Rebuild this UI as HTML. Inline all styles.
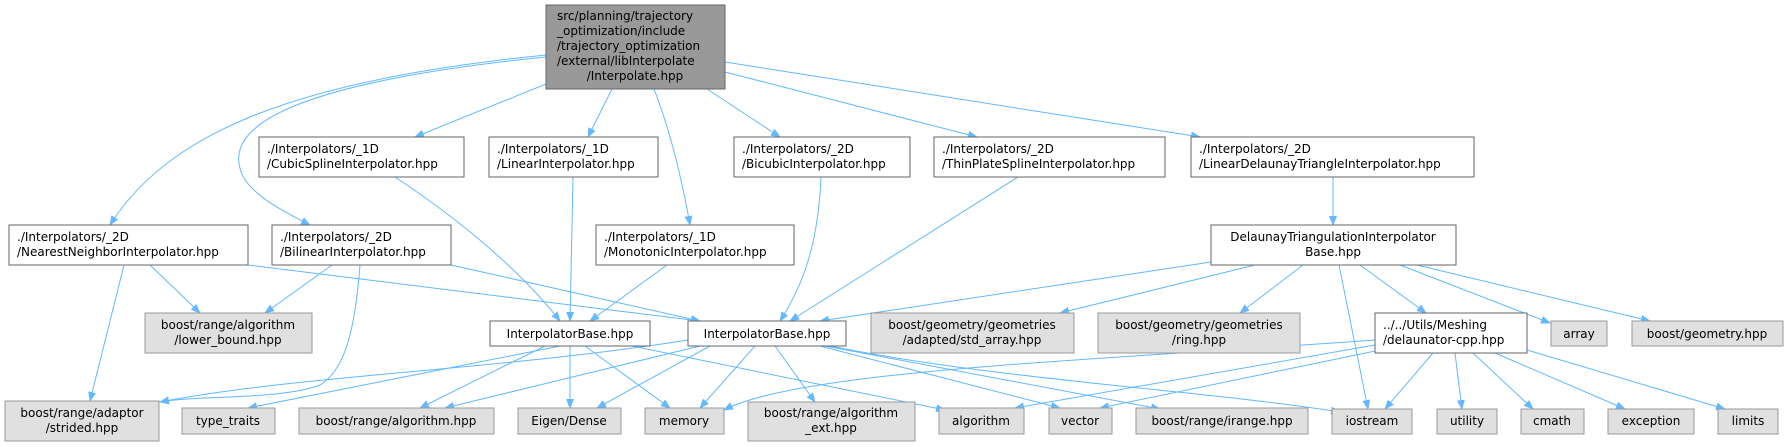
<!DOCTYPE html>
<html><head><meta charset="utf-8"><style>
html,body{margin:0;padding:0;background:#fff}
svg{display:block}
text{font-family:"DejaVu Sans","Liberation Sans",sans-serif;font-size:12px;fill:#000}
.w{fill:#fff;stroke:#666;stroke-width:1}
.g{fill:#e0e0e0;stroke:#999;stroke-width:1}
.r{fill:#999;stroke:#666;stroke-width:1}
.e{fill:none;stroke:#63b8ff;stroke-width:1}
</style></head><body>
<svg width="1788" height="447" viewBox="0 0 1788 447" xmlns="http://www.w3.org/2000/svg">
<defs><marker id="a" markerWidth="10" markerHeight="8" refX="9" refY="4" orient="auto" markerUnits="userSpaceOnUse"><path d="M0,0 L10,4 L0,8 z" fill="#63b8ff"/></marker></defs>
<g marker-end="url(#a)">
<path class="e" d="M546,55 C300,80 170,130 110,225"/>
<path class="e" d="M546,57 C320,80 210,120 245,180 C260,200 285,212 310,225"/>
<path class="e" d="M546,84 L415,137"/>
<path class="e" d="M612,89 L588,137"/>
<path class="e" d="M654,89 C670,130 682,180 690,225"/>
<path class="e" d="M707,89 L780,137"/>
<path class="e" d="M725,72 L977,137"/>
<path class="e" d="M725,62 L1200,137"/>
<path class="e" d="M395,177 C460,220 520,270 560,321"/>
<path class="e" d="M573,177 L570,321"/>
<path class="e" d="M667,265 L590,321"/>
<path class="e" d="M124,265 L90,401"/>
<path class="e" d="M150,265 L200,313"/>
<path class="e" d="M248,265 L700,321"/>
<path class="e" d="M332,265 L265,313"/>
<path class="e" d="M360,265 C355,330 345,370 320,385 C280,400 200,395 160,402"/>
<path class="e" d="M451,265 L700,321"/>
<path class="e" d="M821,177 C818,250 800,290 780,321"/>
<path class="e" d="M1018,177 L790,321"/>
<path class="e" d="M1333,177 L1333,225"/>
<path class="e" d="M1211,262 L820,321"/>
<path class="e" d="M1255,265 L1060,313"/>
<path class="e" d="M1303,265 L1240,313"/>
<path class="e" d="M1339,265 L1368,409"/>
<path class="e" d="M1360,265 L1426,313"/>
<path class="e" d="M1400,265 L1550,323"/>
<path class="e" d="M1417,265 L1650,321"/>
<path class="e" d="M560,346 L248,408"/>
<path class="e" d="M545,346 L420,408"/>
<path class="e" d="M570,346 L570,408"/>
<path class="e" d="M585,346 L670,408"/>
<path class="e" d="M632,346 L945,410"/>
<path class="e" d="M688,340 C500,370 300,375 160,402"/>
<path class="e" d="M700,346 L445,408"/>
<path class="e" d="M710,346 L597,408"/>
<path class="e" d="M755,346 L700,408"/>
<path class="e" d="M775,346 L815,402"/>
<path class="e" d="M820,346 L1060,408"/>
<path class="e" d="M825,346 L1160,409"/>
<path class="e" d="M830,346 C1000,380 1200,390 1340,412"/>
<path class="e" d="M1375,340 C1100,360 800,370 724,410"/>
<path class="e" d="M1375,345 L1015,408"/>
<path class="e" d="M1380,350 L1100,408"/>
<path class="e" d="M1433,353 L1385,409"/>
<path class="e" d="M1455,353 L1462,409"/>
<path class="e" d="M1473,353 L1533,409"/>
<path class="e" d="M1495,353 L1625,409"/>
<path class="e" d="M1527,350 L1725,409"/>
</g>
<rect class="r" x="546" y="5" width="179" height="84"/>
<text x="557" y="20">src/planning/trajectory</text><text x="557" y="35">_optimization/include</text><text x="557" y="50">/trajectory_optimization</text><text x="557" y="65">/external/libInterpolate</text><text x="635" y="80" text-anchor="middle">/Interpolate.hpp</text>
<rect class="w" x="259" y="137" width="205" height="40"/><text x="267" y="153">./Interpolators/_1D</text><text x="267" y="168">/CubicSplineInterpolator.hpp</text>
<rect class="w" x="489" y="137" width="169" height="40"/><text x="497" y="153">./Interpolators/_1D</text><text x="497" y="168">/LinearInterpolator.hpp</text>
<rect class="w" x="734" y="137" width="176" height="40"/><text x="742" y="153">./Interpolators/_2D</text><text x="742" y="168">/BicubicInterpolator.hpp</text>
<rect class="w" x="934" y="137" width="231" height="40"/><text x="942" y="153">./Interpolators/_2D</text><text x="942" y="168">/ThinPlateSplineInterpolator.hpp</text>
<rect class="w" x="1191" y="137" width="283" height="40"/><text x="1199" y="153">./Interpolators/_2D</text><text x="1199" y="168">/LinearDelaunayTriangleInterpolator.hpp</text>
<rect class="w" x="9" y="225" width="239" height="40"/><text x="17" y="241">./Interpolators/_2D</text><text x="17" y="256">/NearestNeighborInterpolator.hpp</text>
<rect class="w" x="272" y="225" width="179" height="40"/><text x="280" y="241">./Interpolators/_2D</text><text x="280" y="256">/BilinearInterpolator.hpp</text>
<rect class="w" x="596" y="225" width="198" height="40"/><text x="604" y="241">./Interpolators/_1D</text><text x="604" y="256">/MonotonicInterpolator.hpp</text>
<rect class="w" x="1211" y="225" width="245" height="40"/><g text-anchor="middle"><text x="1333" y="241">DelaunayTriangulationInterpolator</text><text x="1333" y="256">Base.hpp</text></g>
<rect class="g" x="145" y="313" width="167" height="40"/><g text-anchor="middle"><text x="228" y="329">boost/range/algorithm</text><text x="228" y="344">/lower_bound.hpp</text></g>
<rect class="w" x="490" y="321" width="160" height="25"/><text x="570" y="338" text-anchor="middle">InterpolatorBase.hpp</text>
<rect class="w" x="688" y="321" width="158" height="25"/><text x="767" y="338" text-anchor="middle">InterpolatorBase.hpp</text>
<rect class="g" x="871" y="313" width="203" height="40"/><g text-anchor="middle"><text x="972" y="329">boost/geometry/geometries</text><text x="972" y="344">/adapted/std_array.hpp</text></g>
<rect class="g" x="1098" y="313" width="202" height="40"/><g text-anchor="middle"><text x="1199" y="329">boost/geometry/geometries</text><text x="1199" y="344">/ring.hpp</text></g>
<rect class="w" x="1375" y="313" width="152" height="40"/><text x="1383" y="329">../../Utils/Meshing</text><text x="1383" y="344">/delaunator-cpp.hpp</text>
<rect class="g" x="1551" y="321" width="56" height="25"/><text x="1579" y="338" text-anchor="middle">array</text>
<rect class="g" x="1632" y="321" width="151" height="25"/><text x="1707" y="338" text-anchor="middle">boost/geometry.hpp</text>
<rect class="g" x="5" y="401" width="154" height="40"/><g text-anchor="middle"><text x="82" y="417">boost/range/adaptor</text><text x="82" y="432">/strided.hpp</text></g>
<g text-anchor="middle">
<rect class="g" x="182" y="408" width="93" height="26"/><text x="228" y="425">type_traits</text>
<rect class="g" x="299" y="408" width="195" height="26"/><text x="396" y="425">boost/range/algorithm.hpp</text>
<rect class="g" x="518" y="408" width="103" height="26"/><text x="569" y="425">Eigen/Dense</text>
<rect class="g" x="645" y="408" width="79" height="26"/><text x="684" y="425">memory</text>
<rect class="g" x="748" y="402" width="167" height="39"/><text x="831" y="417">boost/range/algorithm</text><text x="831" y="432">_ext.hpp</text>
<rect class="g" x="939" y="408" width="85" height="26"/><text x="981" y="425">algorithm</text>
<rect class="g" x="1049" y="408" width="63" height="26"/><text x="1080" y="425">vector</text>
<rect class="g" x="1136" y="408" width="172" height="26"/><text x="1222" y="425">boost/range/irange.hpp</text>
<rect class="g" x="1332" y="409" width="80" height="25"/><text x="1372" y="425">iostream</text>
<rect class="g" x="1437" y="409" width="60" height="25"/><text x="1467" y="425">utility</text>
<rect class="g" x="1521" y="409" width="63" height="25"/><text x="1552" y="425">cmath</text>
<rect class="g" x="1608" y="409" width="86" height="25"/><text x="1651" y="425">exception</text>
<rect class="g" x="1718" y="409" width="60" height="25"/><text x="1748" y="425">limits</text>
</g>
</svg>
</body></html>
